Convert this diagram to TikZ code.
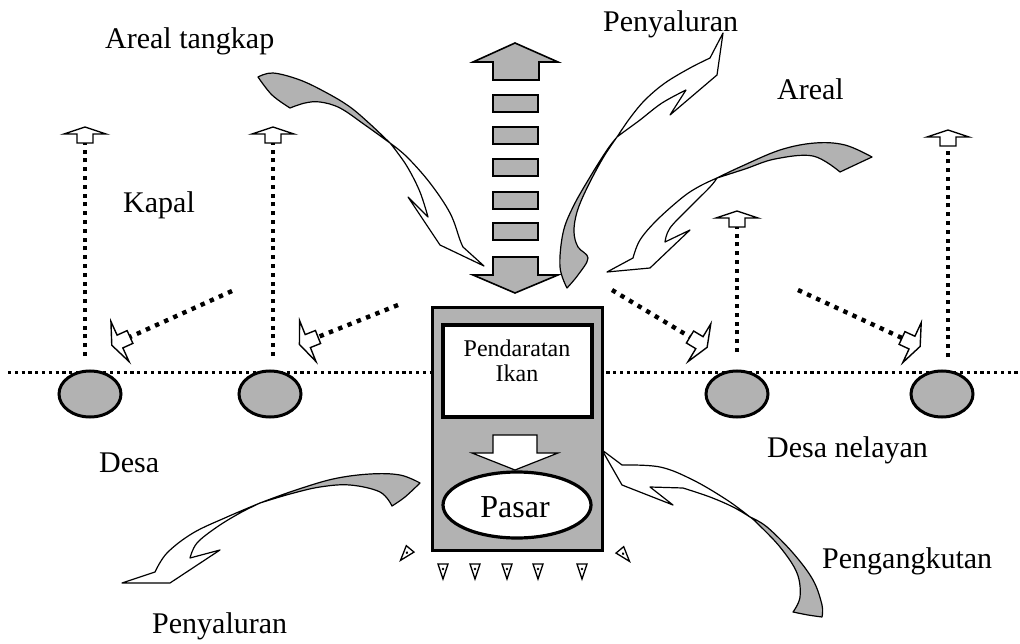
\documentclass[tikz,border=0pt]{standalone}
\usepackage{fontspec}
\setmainfont{Liberation Serif}
\begin{document}
\begin{tikzpicture}[x=1pt,y=-1pt,
  stip/.style={fill=black!30},
  ribbon/.style={draw=black, line width=1.2pt, line join=round},
  blockarr/.style={draw=black, fill=black!30, line width=1.6pt, line join=miter},
  hdots/.style={line width=3pt, dash pattern=on 3.2pt off 3.6pt},
  vdots/.style={line width=4.2pt, dash pattern=on 4pt off 4.8pt},
  ddots/.style={line width=4.4pt, dash pattern=on 4.4pt off 5.6pt},
  lbl/.style={font=\fontsize{30}{34}\selectfont, inner sep=0pt, anchor=base west},
  openarrow/.style={draw=black, fill=white, line width=1.4pt, line join=miter},
  village/.style={draw=black, fill=black!30, line width=3pt},
  pics/uparr/.style={code={\draw[openarrow] (0,0) -- (21,7) -- (8,7) -- (8,16) -- (-8,16) -- (-8,7) -- (-21,7) -- cycle;}},
  pics/tiltarr/.style={code={\draw[openarrow] (0,-7) -- (11,-7) -- (11,-22) -- (20,0) -- (11,22) -- (11,7) -- (0,7) -- cycle;}},
  pics/tri/.style={code={\draw[line width=1.3pt, fill=white, line join=miter] (-5,-8) -- (5,-8) -- (0,7) -- cycle; \fill (0,-3) circle (1.4pt);}}
]
\fill[white] (0,0) rectangle (1020,644);
\useasboundingbox (0,0) rectangle (1020,644);

% shoreline
\coordinate (shoreW) at (8,372);
\coordinate (shoreE) at (1020,372);
\draw[hdots] (shoreW) -- (shoreE);

% villages
\foreach \n/\x in {1/90, 2/270, 3/737, 4/942}
  \draw[village] (\x,394) ellipse [x radius=31pt, y radius=23pt];

% boats going out (vertical dotted tracks)
\foreach \n/\x/\t/\b in {1/85/127/356, 2/273/127/356, 3/737/211/352, 4/948/130/357}{
  \coordinate (vt\n) at (\x,\t+16);
  \coordinate (vb\n) at (\x,\b);
  \draw[vdots] (vb\n) -- (vt\n);
  \pic at (\x,\t) {uparr};
}

% boats coming back (diagonal dotted tracks)
\foreach \n/\ax/\ay/\bx/\by/\r in {1/232/291/130/337/204.3, 2/398/305/318/337/201.8,
                                  3/612/290/690/337/-31.1, 4/798/290/902/338/-24.8}{
  \coordinate (da\n) at (\ax,\ay);
  \coordinate (db\n) at (\bx,\by);
  \draw[ddots] (da\n) -- (db\n);
  \pic[rotate=\r] at (db\n) {tiltarr};
}

% central column of bars between two block arrows
\draw[blockarr] (515,43) -- (558,62) -- (539,62) -- (539,80) -- (493,80) -- (493,62) -- (473,62) -- cycle;
\foreach \y in {95,127,159,192,223}
  \draw[blockarr] (493,\y) rectangle (538,\y+17);
\draw[blockarr] (493,257) -- (538,257) -- (538,275) -- (558,275) -- (515,293) -- (473,275) -- (493,275) -- cycle;

% landing site and market
\draw[stip, draw=black, line width=3pt] (432,308) rectangle (602,550);
\draw[fill=white, line width=3.4pt] (443,325) rectangle (592,417);
\node[font=\fontsize{24}{26}\selectfont, inner sep=0pt, anchor=base] (landing) at (517,356) {Pendaratan};
\node[font=\fontsize{24}{26}\selectfont, inner sep=0pt, anchor=base] (fish) at (517,381) {Ikan};
\draw[openarrow, line width=1.2pt] (493,435) -- (537,435) -- (537,453) -- (558,453) -- (515,470) -- (472,453) -- (493,453) -- cycle;
\draw[fill=white, line width=3.2pt] (517,505) ellipse [x radius=74pt, y radius=33pt];
\node[font=\fontsize{32}{34}\selectfont, inner sep=0pt, anchor=base] (market) at (515,517) {Pasar};

% small markers round the market
\foreach \x in {443,475,507,538,582}
  \pic at (\x,572) {tri};
\pic[rotate=-40] at (405,555) {tri};
\pic[rotate=40] at (625,556) {tri};

% curved ribbon arrow from the fishing ground (upper left)
\draw[stip, ribbon] plot[smooth, tension=0.6] coordinates {(258,77) (273,73) (300,80) (327,93) (350,107) (370,124) (390,143)}
  -- plot[smooth, tension=0.6] coordinates {(390,143) (365,125) (340,108) (320,102) (305,103) (290,108)}
  -- plot[smooth, tension=0.6] coordinates {(290,108) (272,95) (258,77)} -- cycle;
\draw[fill=white, ribbon] plot[smooth, tension=0.6] coordinates {(390,143) (407,157) (430,183) (450,213) (460,240) (463,247)}
  -- (484,266) -- (440,245) -- (408,197) -- (428,217)
  -- plot[smooth, tension=0.6] coordinates {(428,217) (420,192) (408,168) (397,152) (390,143)} -- cycle;

% curved ribbon arrow of distribution (top)
\draw[stip, ribbon] plot[smooth, tension=0.6] coordinates {(617,137) (607,150) (590,177) (573,207) (563,233) (560,267) (567,288)}
  -- plot[smooth, tension=0.6] coordinates {(567,288) (578,275) (588,258) (578,247) (574,232) (577,212) (587,188) (603,158) (617,137)} -- cycle;
\draw[fill=white, ribbon] plot[smooth, tension=0.6] coordinates {(617,137) (630,118) (645,100) (665,83) (690,68) (710,58)}
  -- (723,33) -- (717,75) -- (670,115) -- (686,90)
  -- plot[smooth, tension=0.6] coordinates {(686,90) (662,103) (640,120) (625,131) (617,137)} -- cycle;

% curved ribbon arrow from the fishing ground (right)
\draw[stip, ribbon] plot[smooth, tension=0.6] coordinates {(717,178) (740,167) (780,150) (815,143) (845,145) (872,157)}
  -- plot[smooth, tension=0.6] coordinates {(872,157) (857,164) (840,172)}
  -- plot[smooth, tension=0.6] coordinates {(840,172) (813,156) (775,159) (745,169) (717,178)} -- cycle;
\draw[fill=white, ribbon] plot[smooth, tension=0.6] coordinates {(717,178) (700,186) (683,197) (657,220) (640,240) (633,258)}
  -- (607,272) -- (650,268) -- (690,230) -- (665,242)
  -- plot[smooth, tension=0.6] coordinates {(665,242) (670,228) (690,207) (710,187) (717,178)} -- cycle;

% curved ribbon arrow of distribution (lower left)
\draw[stip, ribbon] plot[smooth, tension=0.6] coordinates {(260,503) (293,491) (333,479) (370,474) (400,475) (420,483)}
  -- plot[smooth, tension=0.6] coordinates {(420,483) (405,497) (392,506)}
  -- plot[smooth, tension=0.6] coordinates {(392,506) (380,492) (350,485) (320,487) (290,494) (260,503)} -- cycle;
\draw[fill=white, ribbon] plot[smooth, tension=0.6] coordinates {(260,503) (227,517) (193,533) (167,553) (155,572)}
  -- (122,583) -- (170,583) -- (220,550) -- (190,558)
  -- plot[smooth, tension=0.6] coordinates {(190,558) (197,543) (217,527) (240,513) (260,503)} -- cycle;

% curved ribbon arrow of transport (lower right)
\draw[fill=white, ribbon] (602,450) -- (622,465)
  -- plot[smooth, tension=0.6] coordinates {(622,465) (660,467) (693,480) (727,500) (750,517)}
  -- plot[smooth, tension=0.6] coordinates {(750,517) (733,507) (710,497) (683,488)}
  -- (650,487) -- (673,505) -- (622,485) -- cycle;
\draw[stip, ribbon] plot[smooth, tension=0.6] coordinates {(750,517) (767,527) (793,553) (813,580) (822,605) (822,617)}
  -- plot[smooth, tension=0.6] coordinates {(822,617) (808,615) (793,612)}
  -- plot[smooth, tension=0.6] coordinates {(793,612) (800,597) (797,573) (780,547) (757,523) (750,517)} -- cycle;

% labels
\node[lbl] (areaTL) at (105,49) {Areal tangkap};
\node[lbl] (distTop) at (603,32) {Penyaluran};
\node[lbl] (areaR) at (777,100) {Areal};
\node[lbl] (ship) at (123,213) {Kapal};
\node[lbl] (village) at (99,472) {Desa};
\node[lbl] (fishvillage) at (767,457) {Desa nelayan};
\node[lbl] (transport) at (822,568) {Pengangkutan};
\node[lbl] (distBot) at (152,633) {Penyaluran};
\end{tikzpicture}
\end{document}
